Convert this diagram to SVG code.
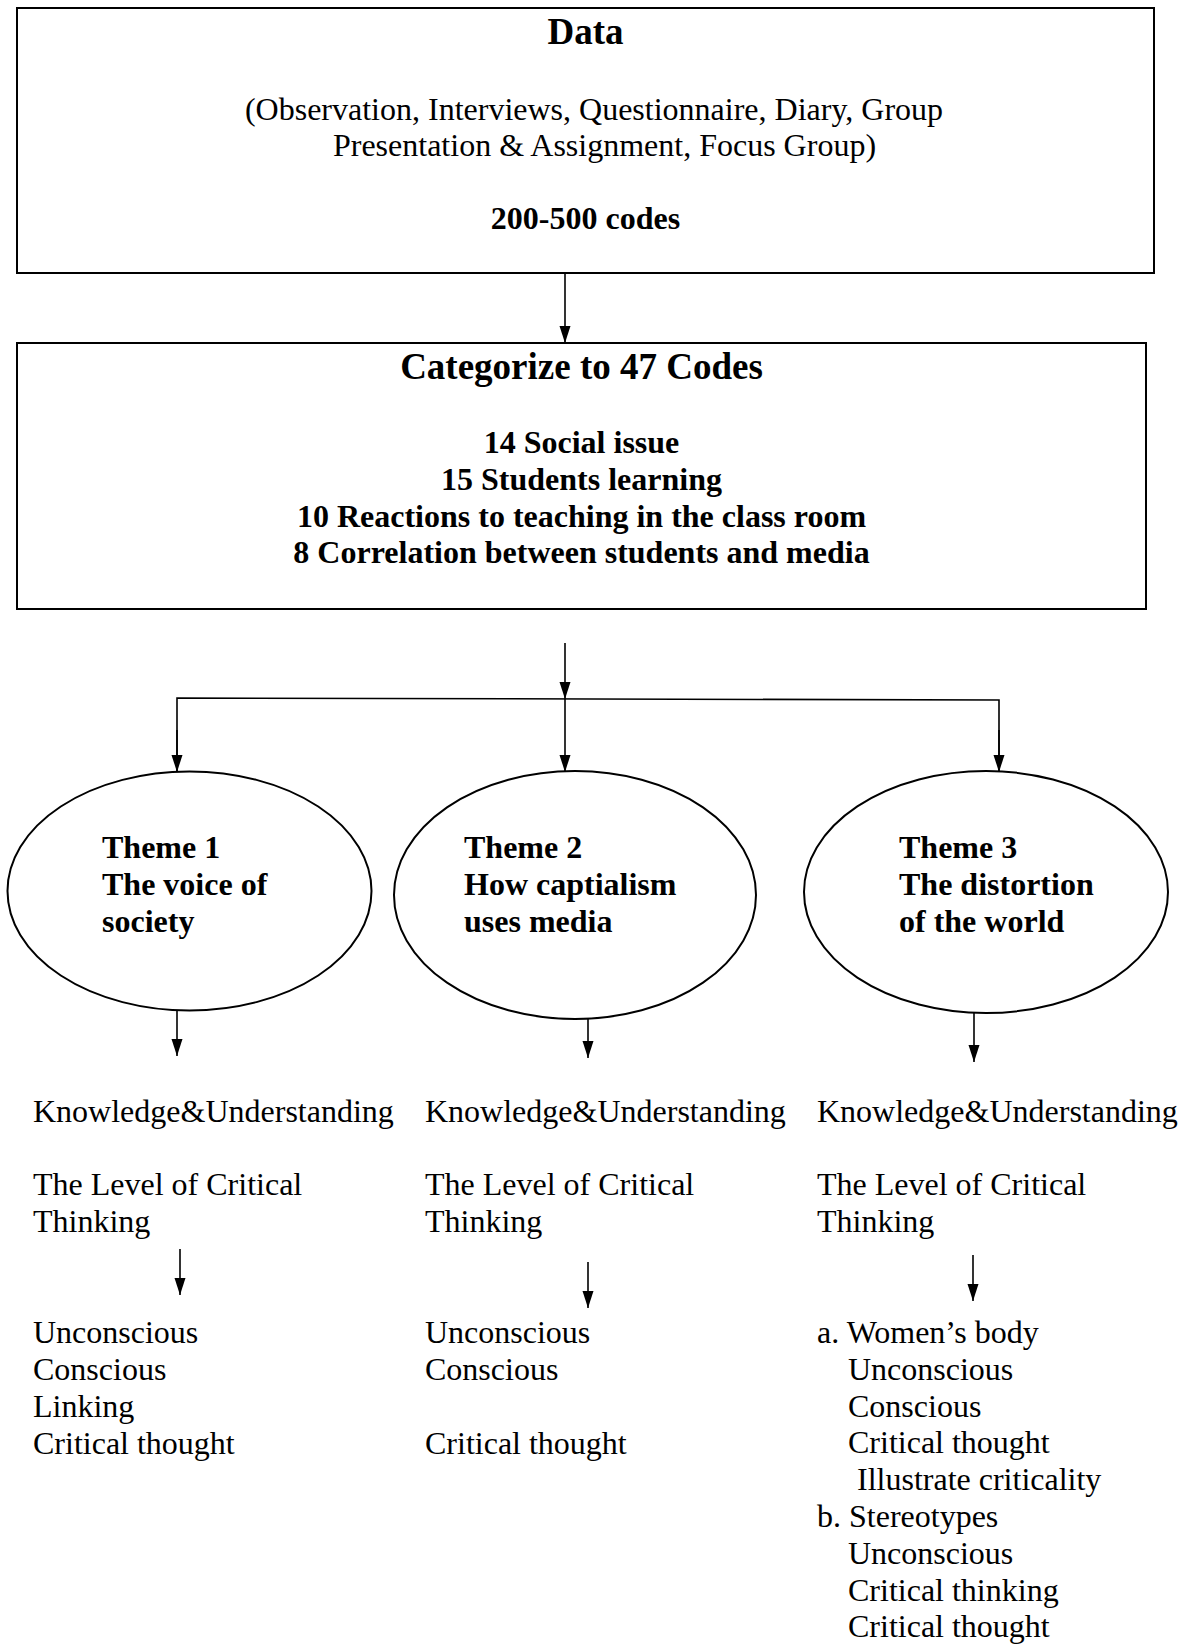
<svg xmlns="http://www.w3.org/2000/svg" width="1188" height="1646" viewBox="0 0 1188 1646">
<style>
text{font-family:"Liberation Serif","Times New Roman",serif;fill:#000}
.h{font-size:37px;font-weight:bold;text-anchor:middle}
.b{font-size:32px;font-weight:bold}
.bc{font-size:32px;font-weight:bold;text-anchor:middle}
.n{font-size:32px}
.nc{font-size:32px;text-anchor:middle}
.shape{fill:none;stroke:#000;stroke-width:2}
.conn{fill:none;stroke:#000;stroke-width:1.6}
</style>
<defs>
<marker id="arr" markerUnits="userSpaceOnUse" markerWidth="18" markerHeight="12" refX="17" refY="5.5" orient="auto">
<path d="M0,0 L17,5.5 L0,11 z" fill="#000"/>
</marker>
</defs>
<rect width="1188" height="1646" fill="#fff"/>
<g id="data">
<rect class="shape" x="17" y="8" width="1137" height="265"/>
<text class="h" x="585.5" y="44">Data</text>
<text class="nc" x="594" y="120">(Observation, Interviews, Questionnaire, Diary, Group</text>
<text class="nc" x="604.5" y="156">Presentation &amp; Assignment, Focus Group)</text>
<text class="bc" x="585.5" y="229">200-500 codes</text>
</g>
<g id="categorize">
<rect class="shape" x="17" y="343" width="1129" height="266"/>
<text class="h" x="581.5" y="379">Categorize to 47 Codes</text>
<text class="bc" x="581.5" y="453">14 Social issue</text>
<text class="bc" x="581.5" y="490">15 Students learning</text>
<text class="bc" x="581.5" y="527">10 Reactions to teaching in the class room</text>
<text class="bc" x="581.5" y="563">8 Correlation between students and media</text>
</g>
<g id="theme1">
<ellipse class="shape" cx="189.5" cy="891" rx="182" ry="119.5"/>
<text class="b" x="102" y="858">Theme 1</text>
<text class="b" x="102" y="895">The voice of</text>
<text class="b" x="102" y="932">society</text>
</g>
<g id="theme2">
<ellipse class="shape" cx="575" cy="895" rx="181" ry="124"/>
<text class="b" x="464" y="858">Theme 2</text>
<text class="b" x="464" y="895">How captialism</text>
<text class="b" x="464" y="932">uses media</text>
</g>
<g id="theme3">
<ellipse class="shape" cx="986" cy="892" rx="182" ry="121"/>
<text class="b" x="899" y="858">Theme 3</text>
<text class="b" x="899" y="895">The distortion</text>
<text class="b" x="899" y="932">of the world</text>
</g>
<g id="col1">
<text class="n" x="33" y="1122">Knowledge&amp;Understanding</text>
<text class="n" x="33" y="1195">The Level of Critical</text>
<text class="n" x="33" y="1232">Thinking</text>
<text class="n" x="33" y="1343">Unconscious</text>
<text class="n" x="33" y="1380">Conscious</text>
<text class="n" x="33" y="1417">Linking</text>
<text class="n" x="33" y="1454">Critical thought</text>
</g>
<g id="col2">
<text class="n" x="425" y="1122">Knowledge&amp;Understanding</text>
<text class="n" x="425" y="1195">The Level of Critical</text>
<text class="n" x="425" y="1232">Thinking</text>
<text class="n" x="425" y="1343">Unconscious</text>
<text class="n" x="425" y="1380">Conscious</text>
<text class="n" x="425" y="1454">Critical thought</text>
</g>
<g id="col3">
<text class="n" x="817" y="1122">Knowledge&amp;Understanding</text>
<text class="n" x="817" y="1195">The Level of Critical</text>
<text class="n" x="817" y="1232">Thinking</text>
<text class="n" x="817" y="1343">a. Women’s body</text>
<text class="n" x="848" y="1380">Unconscious</text>
<text class="n" x="848" y="1417">Conscious</text>
<text class="n" x="848" y="1453">Critical thought</text>
<text class="n" x="857" y="1490">Illustrate criticality</text>
<text class="n" x="817" y="1527">b. Stereotypes</text>
<text class="n" x="848" y="1564">Unconscious</text>
<text class="n" x="848" y="1601">Critical thinking</text>
<text class="n" x="848" y="1637">Critical thought</text>
</g>
<g id="connectors">
<line class="conn" x1="565" y1="273" x2="565" y2="343" marker-end="url(#arr)"/>
<line class="conn" x1="565" y1="643" x2="565" y2="699" marker-end="url(#arr)"/>
<polyline class="conn" points="177,772 177,698 999,700 999,772" stroke-width="2"/>
<line class="conn" x1="177" y1="730" x2="177" y2="772" marker-end="url(#arr)"/>
<line class="conn" x1="565" y1="699" x2="565" y2="772" marker-end="url(#arr)"/>
<line class="conn" x1="999" y1="730" x2="999" y2="772" marker-end="url(#arr)"/>
<line class="conn" x1="177" y1="1010" x2="177" y2="1056" marker-end="url(#arr)"/>
<line class="conn" x1="588" y1="1019" x2="588" y2="1058" marker-end="url(#arr)"/>
<line class="conn" x1="974" y1="1013" x2="974" y2="1062" marker-end="url(#arr)"/>
<line class="conn" x1="180" y1="1249" x2="180" y2="1295" marker-end="url(#arr)"/>
<line class="conn" x1="588" y1="1262" x2="588" y2="1308" marker-end="url(#arr)"/>
<line class="conn" x1="973" y1="1255" x2="973" y2="1301" marker-end="url(#arr)"/>
</g>
</svg>
